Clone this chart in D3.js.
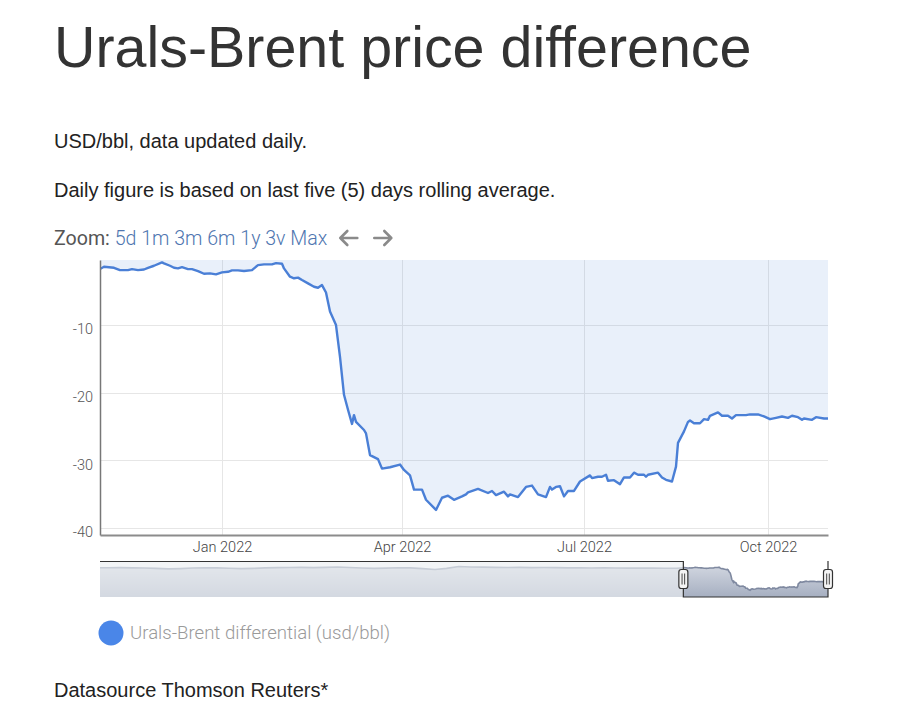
<!DOCTYPE html>
<html><head><meta charset="utf-8">
<script src="https://cdn.jsdelivr.net/npm/d3@7"></script>
<style>body{margin:0;background:#fff}svg{display:block}</style>
</head><body><svg id="c" width="900" height="710"></svg>
<script>
// ---------- data ----------
const histDates = ["2017-10-25","2017-11-15","2017-12-15","2018-01-15","2018-02-15","2018-03-15","2018-04-15","2018-05-15","2018-06-15","2018-07-15","2018-08-15","2018-09-15","2018-10-15","2018-11-15","2018-12-15","2019-01-15","2019-02-15","2019-03-15","2019-04-15","2019-05-15","2019-06-15","2019-07-15","2019-08-15","2019-09-15","2019-10-15","2019-11-15","2019-12-15","2020-01-15","2020-02-15","2020-03-15","2020-04-15","2020-05-15","2020-06-15","2020-07-15","2020-08-15","2020-09-15","2020-10-15","2020-11-15","2020-12-15","2021-01-15","2021-02-15","2021-03-15","2021-04-15","2021-05-15","2021-06-15","2021-07-15","2021-08-15","2021-09-15","2021-10-15"];
const histValues = [-1.5,-1.6,-1.4,-1.7,-1.9,-2.6,-3.4,-2.9,-2.0,-1.6,-1.8,-2.4,-3.0,-2.5,-1.8,-1.3,-1.2,-1.0,-1.3,-0.9,-0.4,-1.2,-1.9,-2.6,-2.2,-1.6,-1.8,-3.0,-4.4,-2.5,0.4,-0.3,-0.6,-0.9,-1.1,-1.0,-1.3,-1.2,-1.4,-1.7,-1.5,-1.9,-1.8,-2.0,-2.1,-1.9,-2.2,-2.4,-2.3];

const dates = ["2021-11-01","2021-11-03","2021-11-08","2021-11-11","2021-11-15","2021-11-17","2021-11-20","2021-11-23","2021-11-25","2021-11-28",
"2021-12-02","2021-12-03","2021-12-06","2021-12-08","2021-12-10","2021-12-12","2021-12-15","2021-12-17","2021-12-20","2021-12-23","2021-12-26","2021-12-29",
"2022-01-01","2022-01-04","2022-01-06","2022-01-09","2022-01-12","2022-01-16","2022-01-19","2022-01-22","2022-01-26","2022-01-28","2022-01-31",
"2022-02-01","2022-02-04","2022-02-06","2022-02-08","2022-02-10","2022-02-13","2022-02-16","2022-02-18","2022-02-20","2022-02-22","2022-02-24","2022-02-27",
"2022-03-01","2022-03-03","2022-03-05","2022-03-07","2022-03-08","2022-03-09","2022-03-13","2022-03-14","2022-03-16","2022-03-20","2022-03-22","2022-03-26","2022-03-31",
"2022-04-02","2022-04-05","2022-04-07","2022-04-11","2022-04-13","2022-04-18","2022-04-21","2022-04-24","2022-04-27",
"2022-05-01","2022-05-03","2022-05-04","2022-05-09","2022-05-14","2022-05-16","2022-05-18","2022-05-22","2022-05-24","2022-05-25","2022-05-29",
"2022-06-02","2022-06-05","2022-06-08","2022-06-12","2022-06-14","2022-06-15","2022-06-17","2022-06-19","2022-06-21","2022-06-23","2022-06-26","2022-06-29",
"2022-07-04","2022-07-05","2022-07-08","2022-07-10","2022-07-12","2022-07-13","2022-07-16","2022-07-19","2022-07-21","2022-07-24","2022-07-26","2022-07-28","2022-07-31",
"2022-08-01","2022-08-02","2022-08-07","2022-08-09","2022-08-11","2022-08-14","2022-08-16","2022-08-17","2022-08-20","2022-08-22","2022-08-23","2022-08-25","2022-08-28","2022-08-30",
"2022-09-01","2022-09-02","2022-09-06","2022-09-08","2022-09-11","2022-09-13","2022-09-15","2022-09-20","2022-09-22","2022-09-26","2022-09-29",
"2022-10-02","2022-10-05","2022-10-08","2022-10-11","2022-10-13","2022-10-16","2022-10-18","2022-10-19","2022-10-23","2022-10-25","2022-10-29","2022-10-31"];
const values = [-1.74,-1.4,-1.55,-1.9,-1.9,-1.74,-1.9,-1.8,-1.55,-1.25,
-0.75,-0.9,-1.25,-1.55,-1.64,-1.45,-1.74,-1.74,-2.03,-2.43,-2.37,-2.52,
-2.23,-2.14,-1.93,-1.93,-2.03,-1.89,-1.15,-1.05,-1.05,-0.86,-0.96,
-1.64,-2.87,-3.1,-3.0,-3.36,-3.85,-4.35,-4.5,-4.1,-5.2,-8.0,-10,
-14.7,-20.3,-22.5,-24.6,-23.3,-24.3,-25.5,-26,-29.2,-29.8,-31.2,-31.0,-30.6,
-31.4,-32.2,-34.3,-34.3,-35.8,-37.3,-35.5,-35.2,-35.8,
-35.3,-35.0,-34.7,-34.2,-34.8,-34.5,-35.1,-34.6,-35.3,-35.0,-35.4,
-33.9,-33.7,-35.0,-35.4,-33.9,-34.3,-33.9,-33.8,-35.3,-34.5,-34.5,-33.1,
-32.2,-32.6,-32.4,-32.4,-32.1,-33.0,-32.9,-33.5,-32.5,-32.5,-31.8,-32.1,-32.1,
-32.4,-32.1,-31.8,-32.5,-32.85,-33.1,-30.9,-27.4,-25.7,-24.3,-24.1,-24.5,-24.5,-23.9,
-24.0,-23.4,-22.9,-23.4,-23.4,-23.8,-23.3,-23.3,-23.2,-23.2,-23.5,
-23.9,-23.7,-23.5,-23.7,-23.4,-23.6,-24.0,-23.8,-24.0,-23.6,-23.8,-23.8];

const xTickDates = ["2022-01-01","2022-04-01","2022-07-01","2022-10-01"];
const xTickLabels = ["Jan 2022","Apr 2022","Jul 2022","Oct 2022"];
const yTicks = [-10,-20,-30,-40];
const yTickLabels = ["-10","-20","-30","-40"];
const zoomButtons = ["5d","1m","3m","6m","1y","3v","Max"];
const seriesName = "Urals-Brent differential (usd/bbl)";

// ---------- setup ----------
const parse = d3.timeParse("%Y-%m-%d");
const main = dates.map((d,i)=>({date:parse(d), value:values[i]}));
const hist = histDates.map((d,i)=>({date:parse(d), value:histValues[i]}));
const all = hist.concat(main);

const svg = d3.select("#c");
const sans = "'Liberation Sans', Arial, sans-serif";
const light = "Roboto, 'Liberation Sans', sans-serif";

// header texts
svg.append("text").attr("x",54).attr("y",67).attr("font-family",sans).attr("font-size",57.4).attr("fill","#333").text("Urals-Brent price difference");
svg.append("text").attr("x",54).attr("y",148).attr("font-family",sans).attr("font-size",20).attr("fill","#222").text("USD/bbl, data updated daily.");
svg.append("text").attr("x",54).attr("y",197).attr("font-family",sans).attr("font-size",20).attr("fill","#222").text("Daily figure is based on last five (5) days rolling average.");

// zoom row
const zt = svg.append("text").attr("x",54).attr("y",245).attr("font-family",light).attr("font-weight",300).attr("font-size",19.6);
zt.append("tspan").attr("fill","#555").attr("font-weight",400).text("Zoom: ");
zt.append("tspan").attr("fill","#4f76b0").text(zoomButtons.join(" "));
const ztEnd = 54 + zt.node().getComputedTextLength();
const ag = svg.append("g").attr("fill","none").attr("stroke","#8a8a8a").attr("stroke-width",2.6).attr("stroke-linecap","round").attr("stroke-linejoin","round");
const ax0 = ztEnd + 12;
ag.append("path").attr("d",`M${ax0+18},238 H${ax0+1} M${ax0+8},231 L${ax0+1},238 L${ax0+8},245`);
const ax1 = ax0 + 35;
ag.append("path").attr("d",`M${ax1},238 H${ax1+17} M${ax1+10},231 L${ax1+17},238 L${ax1+10},245`);

// ---------- main chart ----------
const L=100, R=828, T=260, B=535;
const x = d3.scaleTime().domain([parse("2021-11-01"), parse("2022-10-31")]).range([L,R]);
const y = d3.scaleLinear().domain([-41,-0.4]).range([B,T]);

svg.append("defs").append("clipPath").attr("id","plotclip").append("rect").attr("x",L).attr("y",T).attr("width",R-L).attr("height",B-T);

// gridlines
const grid = svg.append("g").attr("stroke","#e6e6e6").attr("stroke-width",1);
yTicks.forEach(v=>grid.append("line").attr("x1",L).attr("x2",R).attr("y1",Math.round(y(v))+0.5).attr("y2",Math.round(y(v))+0.5));
xTickDates.forEach(d=>grid.append("line").attr("y1",T).attr("y2",B).attr("x1",Math.round(x(parse(d)))+0.5).attr("x2",Math.round(x(parse(d)))+0.5));

const plot = svg.append("g").attr("clip-path","url(#plotclip)");
plot.append("path").datum(main)
  .attr("d", d3.area().x(d=>x(d.date)).y0(y(0)).y1(d=>y(d.value)))
  .attr("fill","rgba(74,128,216,0.12)");
plot.append("path").datum(main)
  .attr("d", d3.line().x(d=>x(d.date)).y(d=>y(d.value)))
  .attr("fill","none").attr("stroke","#4a7fd6").attr("stroke-width",2.4).attr("stroke-linejoin","round");

// axes
const yAxis = d3.axisLeft(y).tickValues(yTicks).tickSize(0).tickPadding(7).tickFormat((d,i)=>yTickLabels[i]);
const gy = svg.append("g").attr("transform",`translate(${L},0)`).call(yAxis);
gy.select(".domain").attr("stroke","#777").attr("stroke-width",1.5);
gy.selectAll("text").attr("font-family",light).attr("font-weight",300).attr("font-size",14.5).attr("fill","#555").attr("dy","0.6em");

const xAxis = d3.axisBottom(x).tickValues(xTickDates.map(parse)).tickSize(0).tickPadding(7)
  .tickFormat((d,i)=>xTickLabels[i]);
const gx = svg.append("g").attr("transform",`translate(0,${B})`).call(xAxis);
gx.select(".domain").attr("stroke","#8c8c8c").attr("stroke-width",2);
gx.selectAll("text").attr("font-family",light).attr("font-weight",300).attr("font-size",14.5).attr("fill","#444");

// ---------- navigator ----------
const NT=561, NB=597;
const nx = d3.scaleTime().domain(d3.extent(all,d=>d.date)).range([L,R]);
const ny = d3.scaleLinear().domain([-48.6,10.8]).range([597.3,560]);
const defs = svg.select("defs");
const gr = defs.append("linearGradient").attr("id","navg").attr("x1",0).attr("y1",0).attr("x2",0).attr("y2",1);
gr.append("stop").attr("offset","0%").attr("stop-color","#d0d5df");
gr.append("stop").attr("offset","100%").attr("stop-color","#a6afc1");
defs.append("clipPath").attr("id","navclip").append("rect").attr("x",L).attr("y",NT).attr("width",R-L).attr("height",NB-NT);

const nav = svg.append("g").attr("clip-path","url(#navclip)");
nav.append("path").datum(all).attr("d", d3.area().x(d=>nx(d.date)).y0(NB).y1(d=>ny(d.value))).attr("fill","url(#navg)");
nav.append("path").datum(all).attr("d", d3.line().x(d=>nx(d.date)).y(d=>ny(d.value))).attr("fill","none").attr("stroke","#7f89a0").attr("stroke-width",1.6);

const selL = nx(parse("2021-11-01")), selR = nx(parse("2022-10-31"));
nav.append("rect").attr("x",L).attr("y",NT).attr("width",selL-L).attr("height",NB-NT).attr("fill","rgba(236,238,241,0.66)");

svg.append("path").attr("d",`M${L},${NT+0.5} H${selL} V${NB} H${selR} V${NT}`).attr("fill","none").attr("stroke","#333").attr("stroke-width",1.2);

[selL, selR].forEach(cx=>{
  const h = svg.append("g");
  h.append("rect").attr("x",cx-4.5).attr("y",569.5).attr("width",9).attr("height",19).attr("rx",2.5).attr("fill","#f4f4f4").attr("stroke","#333").attr("stroke-width",1.2);
  h.append("line").attr("x1",cx-1.3).attr("x2",cx-1.3).attr("y1",573.5).attr("y2",584.5).attr("stroke","#444").attr("stroke-width",1);
  h.append("line").attr("x1",cx+1.3).attr("x2",cx+1.3).attr("y1",573.5).attr("y2",584.5).attr("stroke","#444").attr("stroke-width",1);
});

// ---------- legend ----------
svg.append("circle").attr("cx",111).attr("cy",633).attr("r",12.5).attr("fill","#4a86e8");
svg.append("text").attr("x",130).attr("y",639).attr("font-family",light).attr("font-weight",300).attr("font-size",18.6).attr("fill","#9a9a9a").text(seriesName);

// footer
svg.append("text").attr("x",54).attr("y",697).attr("font-family",sans).attr("font-size",20).attr("fill","#222").text("Datasource Thomson Reuters*");
</script>
</body></html>
